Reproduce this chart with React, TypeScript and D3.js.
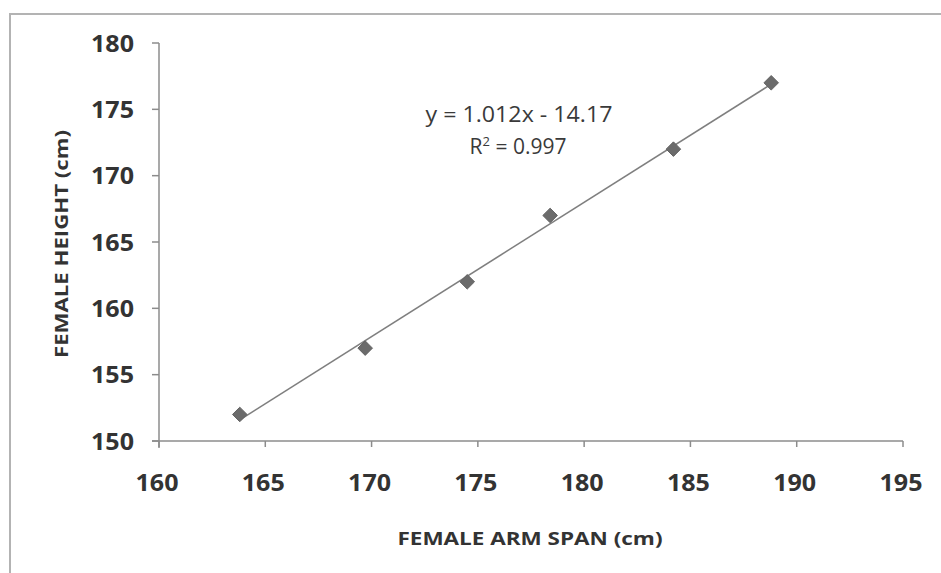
import React from 'react'
import * as d3 from 'd3'

// arm span (x) vs height (y)
const armSpan = [163.8, 169.7, 174.5, 178.4, 184.2, 188.8]
const height = [152, 157, 162, 167, 172, 177]
const xTicks = [160, 165, 170, 175, 180, 185, 190, 195]
const yTicks = [150, 155, 160, 165, 170, 175, 180]
const slope = 1.012
const intercept = -14.17
const rSquared = '0.997'

const W = 941
const H = 573
const font = "'Open Sans', 'Noto Sans', sans-serif"

const App = () => {
  const x = d3.scaleLinear().domain([160, 195]).range([159, 903])
  const y = d3.scaleLinear().domain([150, 180]).range([441, 43])

  const pts = armSpan.map((v, i) => ({ x: v, y: height[i] }))
  const [x0, x1] = d3.extent(armSpan) as [number, number]
  const trend = d3.line<number>()
    .x(d => x(d))
    .y(d => y(slope * d + intercept))([x0, x1])

  const diamond = d3.symbol().type(d3.symbolDiamond2).size(135)()

  return (
    <svg width={W} height={H} style={{ display: 'block', position: 'absolute', left: 0, top: 0 }}>
      <rect x={0} y={0} width={W} height={H} fill='#fff' />
      {/* chart border, cut off at right / bottom */}
      <path d={`M10,${H + 2}V14H${W + 2}`} fill='none' stroke='#b3b3b3' strokeWidth={2} />

      {/* axes */}
      <line x1={152} x2={x(195)} y1={441} y2={441} stroke='#8c8c8c' strokeWidth={1.5} />
      <line x1={159} x2={159} y1={y(180)} y2={448} stroke='#8c8c8c' strokeWidth={1.5} />
      {xTicks.map(t => (
        <g key={'x' + t}>
          <line x1={x(t)} x2={x(t)} y1={441} y2={447} stroke='#8c8c8c' strokeWidth={1.5} />
          <text x={x(t) - 2} y={491} textAnchor='middle' fontFamily={font} fontWeight='bold'
            fontSize={24} fill='#333' textLength={43} lengthAdjust='spacingAndGlyphs'>{t}</text>
        </g>
      ))}
      {yTicks.map(t => (
        <g key={'y' + t}>
          <line x1={152} x2={159} y1={y(t)} y2={y(t)} stroke='#8c8c8c' strokeWidth={1.5} />
          <text x={134} y={y(t) + 8.5} textAnchor='end' fontFamily={font} fontWeight='bold'
            fontSize={24} fill='#333' textLength={43} lengthAdjust='spacingAndGlyphs'>{t}</text>
        </g>
      ))}

      {/* titles */}
      <text x={530} y={545} textAnchor='middle' fontFamily={font} fontWeight='bold' fontSize={18.5}
        fill='#333' textLength={265} lengthAdjust='spacingAndGlyphs'>FEMALE ARM SPAN (cm)</text>
      <text transform='translate(68,244) rotate(-90)' textAnchor='middle' fontFamily={font}
        fontWeight='bold' fontSize={18.5} fill='#333' textLength={228}
        lengthAdjust='spacingAndGlyphs'>FEMALE HEIGHT (cm)</text>

      {/* trendline + points */}
      <path d={trend ?? ''} fill='none' stroke='#7f7f7f' strokeWidth={1.6} />
      {pts.map((p, i) => (
        <path key={i} d={diamond ?? ''} transform={`translate(${x(p.x)},${y(p.y)})`} fill='#6b6b6b'
          stroke='#636363' strokeWidth={1} />
      ))}

      {/* equation */}
      <text x={519} y={122} textAnchor='middle' fontFamily={font} fontSize={21} fill='#3a3a3a'
        textLength={187} lengthAdjust='spacingAndGlyphs'>
        {`y = ${slope}x - ${Math.abs(intercept)}`}
      </text>
      <text x={518} y={154} textAnchor='middle' fontFamily={font} fontSize={21} fill='#3a3a3a'>
        R<tspan dy={-8} fontSize={13}>2</tspan><tspan dy={8}>{` = ${rSquared}`}</tspan>
      </text>
    </svg>
  )
}

export default App
